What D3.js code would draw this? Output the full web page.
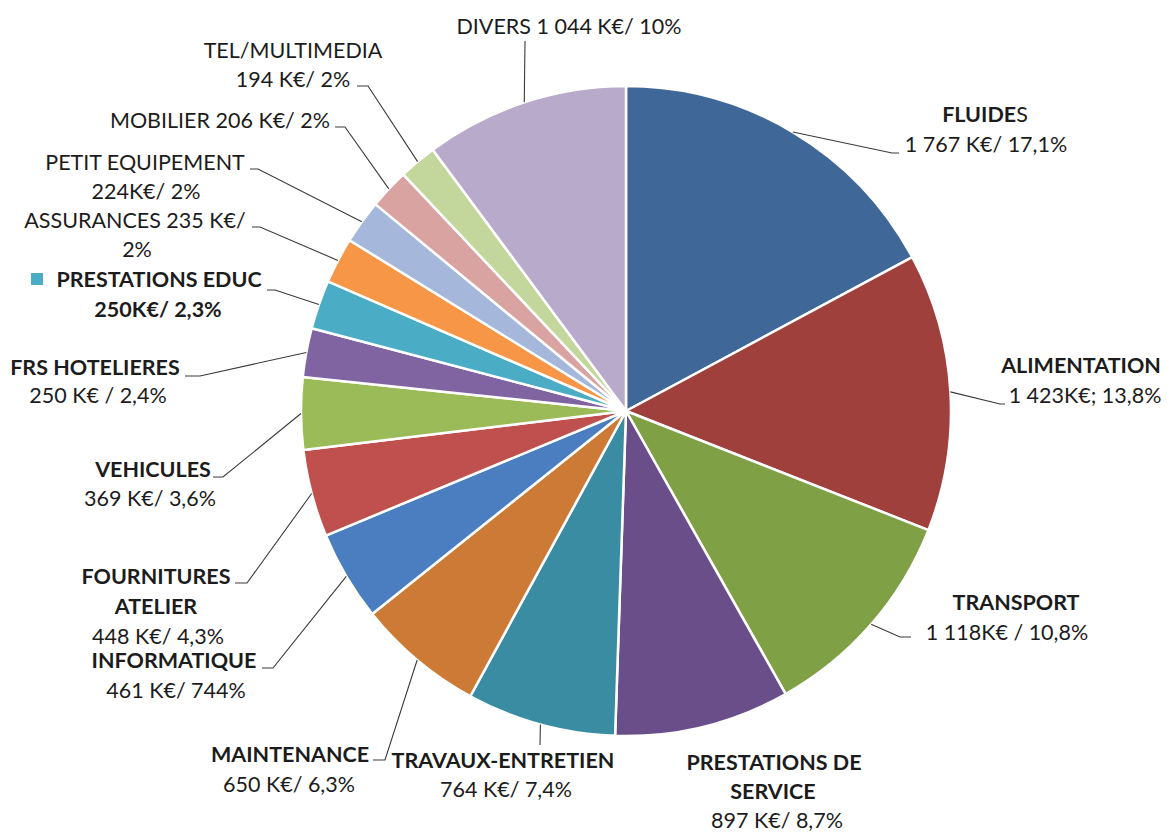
<!DOCTYPE html>
<html>
<head>
<meta charset="utf-8">
<script src="https://cdn.jsdelivr.net/npm/d3@7"></script>
<style>
  html, body { margin: 0; padding: 0; background: #ffffff; }
  svg { display: block; }
  text { font-family: Lato, "Open Sans", sans-serif; fill: #1c1c1c; }
</style>
</head>
<body>
<svg id="chart" width="1167" height="834"></svg>
<script>
// Budget breakdown (K€), clockwise from 12 o'clock
const categories = [
  "FLUIDES", "ALIMENTATION", "TRANSPORT", "PRESTATIONS DE SERVICE",
  "TRAVAUX-ENTRETIEN", "MAINTENANCE", "INFORMATIQUE", "FOURNITURES ATELIER",
  "VEHICULES", "FRS HOTELIERES", "PRESTATIONS EDUC", "ASSURANCES",
  "PETIT EQUIPEMENT", "MOBILIER", "TEL/MULTIMEDIA", "DIVERS"
];
const values = [1767, 1423, 1118, 897, 764, 650, 461, 448, 369, 250, 250, 235, 224, 206, 194, 1044];
const colors = [
  "#3f6898", "#a0403d", "#80a046", "#6a4e8a",
  "#3a8ca3", "#cc7a35", "#4a7ec0", "#c0504d",
  "#9bbb59", "#8064a2", "#4bacc6", "#f79646",
  "#a5b8dc", "#d9a3a2", "#c3d69b", "#b8aaca"
];
// Text lines of each data label: [text, bold]
const labelLines = [
  [["FLUIDES", true], ["1 767 K€/ 17,1%", false]],
  [["ALIMENTATION", true], ["1 423K€; 13,8%", false]],
  [["TRANSPORT", true], ["1 118K€ / 10,8%", false]],
  [["PRESTATIONS DE", true], ["SERVICE", true], ["897 K€/ 8,7%", false]],
  [["TRAVAUX-ENTRETIEN", true], ["764 K€/ 7,4%", false]],
  [["MAINTENANCE", true], ["650 K€/ 6,3%", false]],
  [["INFORMATIQUE", true], ["461 K€/ 744%", false]],
  [["FOURNITURES", true], ["ATELIER", true], ["448 K€/ 4,3%", false]],
  [["VEHICULES", true], ["369 K€/ 3,6%", false]],
  [["FRS HOTELIERES", true], ["250 K€ / 2,4%", false]],
  [["PRESTATIONS EDUC", true], ["250K€/ 2,3%", true]],
  [["ASSURANCES 235 K€/", false], ["2%", false]],
  [["PETIT EQUIPEMENT", false], ["224K€/ 2%", false]],
  [["MOBILIER 206 K€/ 2%", false]],
  [["TEL/MULTIMEDIA", false], ["194 K€/ 2%", false]],
  [["DIVERS 1 044 K€/ 10%", false]]
];

// Label placement: centre x and baseline of each line, leader elbow and end
const labelLayout = [
  { x: [985, 986],        y: [122, 152],      elbow: [892, 153], end: [899, 153] },
  { x: [1081, 1085],      y: [373, 403],      elbow: [1000, 404], end: [1005, 404] },
  { x: [1016, 1007],      y: [610, 640],      elbow: [900, 637], end: [911, 637] },
  { x: [774, 773, 777],   y: [770, 799, 828], elbow: null, end: null },
  { x: [503, 506],        y: [768, 797],      elbow: null, end: [540, 745] },
  { x: [290, 289],        y: [762, 792],      elbow: [385, 760], end: [373, 760] },
  { x: [174, 176],        y: [668, 698],      elbow: [273, 668], end: [262, 668] },
  { x: [156, 156, 158],   y: [584, 614, 644], elbow: [247, 583], end: [235, 583] },
  { x: [153, 150],        y: [477, 506],      elbow: [223, 477], end: [213, 477] },
  { x: [95, 98],          y: [375, 403],      elbow: [200, 376], end: [185, 376] },
  { x: [159, 158],        y: [287, 317],      elbow: [275, 290], end: [267, 290], marker: [31, 273] },
  { x: [135, 137],        y: [228, 257],      elbow: [260, 227], end: [252, 227] },
  { x: [145, 146],        y: [170, 199],      elbow: [258, 169], end: [250, 169] },
  { x: [220],             y: [128],           elbow: [345, 127], end: [335, 127] },
  { x: [293, 293],        y: [58, 87],        elbow: [368, 86], end: [357, 86] },
  { x: [569],             y: [34],            elbow: null, end: [525, 41] }
];

const svg = d3.select("#chart");
const cx = 626, cy = 411, radius = 325;

const pie = d3.pie().sort(null).value(d => d);
const arcs = pie(values);

const arc = d3.arc().innerRadius(0).outerRadius(radius);
const rim = d3.arc().innerRadius(radius).outerRadius(radius);

const g = svg.append("g").attr("transform", `translate(${cx},${cy})`);

g.selectAll("path.slice")
  .data(arcs)
  .join("path")
  .attr("class", "slice")
  .attr("d", arc)
  .attr("fill", (d, i) => colors[i])
  .attr("stroke", "#ffffff")
  .attr("stroke-width", 2.5)
  .attr("stroke-linejoin", "round");

// Leader lines from the rim at each slice's mid-angle
const leaders = svg.append("g")
  .attr("fill", "none")
  .attr("stroke", "#3a3a3a")
  .attr("stroke-width", 1.1);

arcs.forEach((d, i) => {
  const L = labelLayout[i];
  if (!L.end) return;
  const [px, py] = rim.centroid(d);
  const pts = [[cx + px, cy + py]];
  if (L.elbow) pts.push(L.elbow);
  pts.push(L.end);
  leaders.append("path").attr("d", d3.line()(pts));
});

// Data labels
const labels = svg.append("g");
labelLines.forEach((lines, i) => {
  const L = labelLayout[i];
  lines.forEach(([txt, bold], j) => {
    const t = labels.append("text")
      .attr("x", L.x[j])
      .attr("y", L.y[j])
      .attr("text-anchor", "middle")
      .attr("font-size", 21.5)
      .attr("font-weight", bold ? 700 : 400);
    if (categories[i] === "FLUIDES" && j === 0) {
      t.append("tspan").text("FLUIDE");
      t.append("tspan").attr("font-weight", 400).text("S");
    } else {
      t.text(txt);
    }
  });
  if (L.marker) {
    labels.append("rect")
      .attr("x", L.marker[0]).attr("y", L.marker[1])
      .attr("width", 12).attr("height", 12)
      .attr("fill", colors[i]);
  }
});
</script>
</body>
</html>
